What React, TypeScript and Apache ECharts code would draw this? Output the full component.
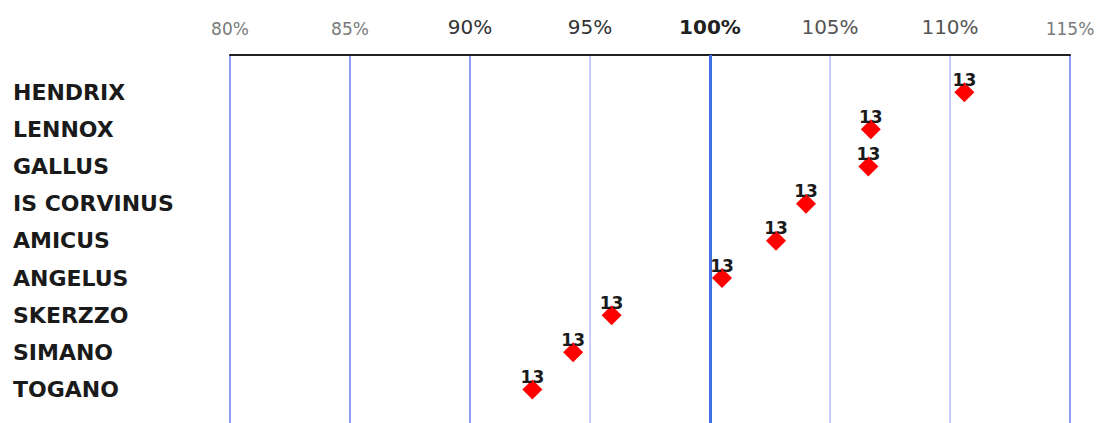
import React, { useEffect, useRef } from "react";
import * as echarts from "echarts";

const categories = [
  "HENDRIX",
  "LENNOX",
  "GALLUS",
  "IS CORVINUS",
  "AMICUS",
  "ANGELUS",
  "SKERZZO",
  "SIMANO",
  "TOGANO",
];
const values = [110.6, 106.7, 106.6, 104.0, 102.75, 100.5, 95.9, 94.3, 92.6];
const counts = [13, 13, 13, 13, 13, 13, 13, 13, 13];
const xTicks = [80, 85, 90, 95, 100, 105, 110, 115];
const referenceValue = 100;

export default function App() {
  const ref = useRef<HTMLDivElement>(null);

  useEffect(() => {
    if (!ref.current) return;
    const chart = echarts.init(ref.current, null, { renderer: "svg" });

    const styleFor = (v: number) => {
      if (v === 80 || v === 85 || v === 115) return "small";
      if (v === 100) return "bold";
      if (v === 105 || v === 110) return "mid";
      return "dark";
    };

    const lineColors = xTicks.map((v) => {
      if (v === 95 || v === 105 || v === 110) return "#c9cff7";
      if (v === 100) return "#3f70e6";
      return "#8e9ff0";
    });

    chart.setOption({
      animation: false,
      backgroundColor: "#ffffff",
      grid: { left: 230, right: 29, top: 55, bottom: 0, containLabel: false },
      xAxis: {
        type: "value",
        position: "top",
        min: xTicks[0],
        max: xTicks[xTicks.length - 1],
        interval: 5,
        axisLine: { show: true, onZero: false, lineStyle: { color: "#222", width: 2 } },
        axisTick: { show: false },
        splitLine: { show: true, lineStyle: { color: lineColors, width: 2 } },
        axisLabel: {
          margin: 18,
          fontFamily: "DejaVu Sans",
          formatter: (v: number) => `{${styleFor(v)}|${v}%}`,
          rich: {
            small: { fontSize: 17, color: "#7a7a7a", fontFamily: "DejaVu Sans" },
            dark: { fontSize: 20, color: "#333", fontFamily: "DejaVu Sans" },
            mid: { fontSize: 20, color: "#555", fontFamily: "DejaVu Sans" },
            bold: { fontSize: 20, color: "#222", fontWeight: "bold", fontFamily: "DejaVu Sans" },
          },
        },
      },
      yAxis: {
        type: "value",
        inverse: true,
        min: -1,
        max: 8.9,
        interval: 1,
        axisLine: { show: false },
        axisTick: { show: false },
        splitLine: { show: false },
        axisLabel: {
          align: "left",
          margin: 217,
          fontFamily: "DejaVu Sans",
          fontWeight: "bold",
          fontSize: 22,
          color: "#1a1a1a",
          formatter: (v: number) =>
            Number.isInteger(v) && v >= 0 && v < categories.length ? categories[v] : "",
        },
      },
      series: [
        {
          type: "scatter",
          symbol: "diamond",
          symbolSize: 20,
          itemStyle: { color: "#ff0000", opacity: 1 },
          data: values.map((v, i) => [v, i, counts[i]]),
          label: {
            show: true,
            position: "top",
            distance: -6,
            formatter: (p: any) => String(p.value[2]),
            fontFamily: "DejaVu Sans",
            fontWeight: "bold",
            fontSize: 17,
            color: "#1a1a1a",
          },
          markLine: {
            silent: true,
            symbol: "none",
            label: { show: false },
            lineStyle: { color: "#3f70e6", width: 3, type: "solid" },
            data: [{ xAxis: referenceValue }],
          },
          z: 5,
        },
      ],
    });

    return () => chart.dispose();
  }, []);

  return (
    <div
      ref={ref}
      style={{ position: "fixed", left: 0, top: 0, width: 1099, height: 423 }}
    />
  );
}
